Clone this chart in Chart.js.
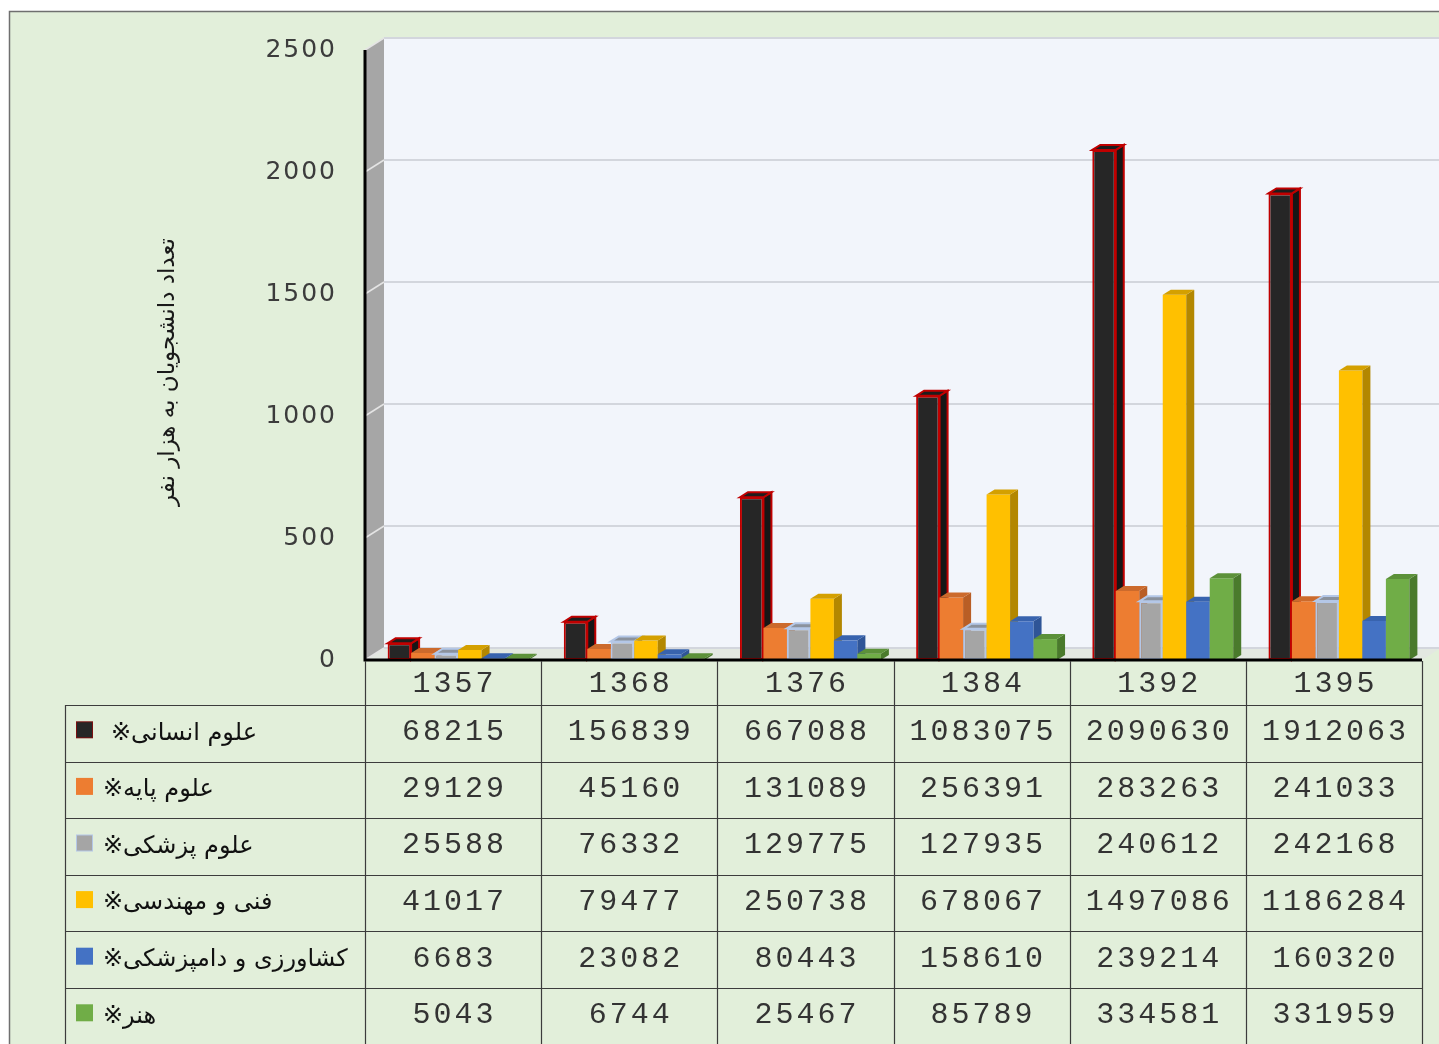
<!DOCTYPE html>
<html>
<head>
<meta charset="utf-8">
<script src="https://cdn.jsdelivr.net/npm/chart.js@4.4.1/dist/chart.umd.min.js"></script>
<style>
  html, body { margin: 0; padding: 0; background: #fff; }
  #wrap { width: 1439px; height: 1044px; position: relative; }
</style>
</head>
<body>
<div id="wrap"><canvas id="chart"></canvas></div>
<script>
// data (raw student counts, the chart shows them in thousands)
const years = ['1357', '1368', '1376', '1384', '1392', '1395'];
const seriesNames = ['علوم انسانی※', 'علوم پایه※', 'علوم پزشکی※', 'فنی و مهندسی※', 'کشاورزی و دامپزشکی※', 'هنر※'];
const humanities = [68215, 156839, 667088, 1083075, 2090630, 1912063];
const basicSciences = [29129, 45160, 131089, 256391, 283263, 241033];
const medical = [25588, 76332, 129775, 127935, 240612, 242168];
const engineering = [41017, 79477, 250738, 678067, 1497086, 1186284];
const agriculture = [6683, 23082, 80443, 158610, 239214, 160320];
const art = [5043, 6744, 25467, 85789, 334581, 331959];
const yTicks = [0, 500, 1000, 1500, 2000, 2500];
const yTitle = 'تعداد دانشجویان به هزار نفر';

const seriesValues = [humanities, basicSciences, medical, engineering, agriculture, art];

const faceColors = ['#262626', '#ed7d31', '#a5a5a5', '#ffc000', '#4472c4', '#70ad47'];
const sideColors = ['#161616', '#b95e25', '#7f8691', '#b38700', '#2f5597', '#4a7a2c'];
const topColors = ['#1d1d1d', '#cc6a2c', '#8b929d', '#d4a000', '#3863ae', '#5c9139'];
const edgeColors = ['#c00000', null, '#b4c7e7', null, null, null];

const wallDepth = { dx: 19, dy: -12 };
const barDepth = { dx: 8, dy: -5 };
const barShift = 5;
const table = { labelLeft: 65, firstRowTop: 705, rowH: 56.6 };

const wallPlugin = {
  id: 'walls',
  beforeDraw(chart) {
    const ctx = chart.ctx;
    const a = chart.chartArea;
    const y = chart.scales.y;
    ctx.save();
    ctx.fillStyle = '#ffffff';
    ctx.fillRect(0, 0, chart.width, chart.height);
    ctx.fillStyle = '#e2efda';
    ctx.fillRect(10, 12, chart.width, chart.height);
    ctx.strokeStyle = '#6f6f6f';
    ctx.lineWidth = 1.5;
    ctx.beginPath();
    ctx.moveTo(9.5, chart.height);
    ctx.lineTo(9.5, 11.5);
    ctx.lineTo(chart.width, 11.5);
    ctx.stroke();

    const dx = wallDepth.dx, dy = wallDepth.dy;
    // back wall
    ctx.fillStyle = '#f2f5fb';
    ctx.fillRect(a.left + dx, a.top + dy, a.right - a.left + 40, a.bottom - a.top);
    // floor
    ctx.fillStyle = '#e3e8e1';
    ctx.beginPath();
    ctx.moveTo(a.left, a.bottom);
    ctx.lineTo(a.right, a.bottom);
    ctx.lineTo(a.right + dx, a.bottom + dy);
    ctx.lineTo(a.left + dx, a.bottom + dy);
    ctx.closePath();
    ctx.fill();
    // side wall
    ctx.fillStyle = '#a6a6a6';
    ctx.beginPath();
    ctx.moveTo(a.left, a.bottom);
    ctx.lineTo(a.left, a.top);
    ctx.lineTo(a.left + dx, a.top + dy);
    ctx.lineTo(a.left + dx, a.bottom + dy);
    ctx.closePath();
    ctx.fill();
    // grid lines on back and side walls
    yTicks.forEach(t => {
      const py = y.getPixelForValue(t);
      ctx.strokeStyle = '#d3d6dd';
      ctx.lineWidth = 2;
      ctx.beginPath();
      ctx.moveTo(a.left + dx, py + dy);
      ctx.lineTo(chart.width, py + dy);
      ctx.stroke();
      ctx.strokeStyle = '#e4e4e4';
      ctx.lineWidth = 1.5;
      ctx.beginPath();
      ctx.moveTo(a.left, py);
      ctx.lineTo(a.left + dx, py + dy);
      ctx.stroke();
    });
    ctx.restore();
    ctx.letterSpacing = '2px';
  }
};

const barsPlugin = {
  id: 'bars3d',
  beforeDatasetDraw() {
    return false;
  },
  afterDatasetsDraw(chart) {
    const ctx = chart.ctx;
    const dx = barDepth.dx, dy = barDepth.dy;
    ctx.save();
    ctx.translate(barShift, 0);
    for (let i = 0; i < seriesValues.length; i++) {
      const meta = chart.getDatasetMeta(i);
      meta.data.forEach(bar => {
        const p = bar.getProps(['x', 'y', 'base', 'width'], true);
        const l = p.x - p.width / 2, r = p.x + p.width / 2;
        const top = Math.min(p.y, p.base), base = Math.max(p.y, p.base);
        bar.draw(ctx);
        // side face
        ctx.beginPath();
        ctx.moveTo(r, top);
        ctx.lineTo(r + dx, top + dy);
        ctx.lineTo(r + dx, base + dy);
        ctx.lineTo(r, base);
        ctx.closePath();
        ctx.fillStyle = sideColors[i];
        ctx.fill();
        if (i === 0) { ctx.strokeStyle = edgeColors[0]; ctx.lineWidth = 2; ctx.stroke(); }
        // top face
        ctx.beginPath();
        ctx.moveTo(l, top);
        ctx.lineTo(l + dx, top + dy);
        ctx.lineTo(r + dx, top + dy);
        ctx.lineTo(r, top);
        ctx.closePath();
        ctx.fillStyle = topColors[i];
        ctx.fill();
        if (edgeColors[i]) { ctx.strokeStyle = edgeColors[i]; ctx.lineWidth = 2; ctx.stroke(); }
      });
    }
    ctx.restore();
  }
};

const tablePlugin = {
  id: 'dataTable',
  afterDraw(chart) {
    const ctx = chart.ctx;
    const a = chart.chartArea;
    const x = chart.scales.x;
    const colW = (a.right - a.left) / years.length;
    const H = chart.height;
    ctx.save();
    // front axis lines
    ctx.strokeStyle = '#000';
    ctx.lineWidth = 3;
    ctx.beginPath();
    ctx.moveTo(a.left, a.top);
    ctx.lineTo(a.left, a.bottom);
    ctx.lineTo(a.right, a.bottom);
    ctx.stroke();

    // grid of the table
    ctx.strokeStyle = '#3c3c3c';
    ctx.lineWidth = 1.2;
    ctx.beginPath();
    for (let c = 0; c <= years.length; c++) {
      const cx = Math.round(a.left + c * colW) + 0.5;
      ctx.moveTo(cx, a.bottom + 1);
      ctx.lineTo(cx, H);
    }
    ctx.moveTo(table.labelLeft + 0.5, table.firstRowTop);
    ctx.lineTo(table.labelLeft + 0.5, H);
    for (let r = 0; r <= seriesValues.length; r++) {
      const ry = Math.round(table.firstRowTop + r * table.rowH) + 0.5;
      ctx.moveTo(table.labelLeft, ry);
      ctx.lineTo(a.right + 0.5, ry);
    }
    ctx.stroke();

    // year header + values
    ctx.fillStyle = '#333333';
    ctx.font = '30px "Liberation Mono", monospace';
    ctx.letterSpacing = '3px';
    ctx.textAlign = 'center';
    ctx.textBaseline = 'middle';
    const headerMid = (a.bottom + table.firstRowTop) / 2 + 2;
    years.forEach((yr, c) => ctx.fillText(yr, x.getPixelForValue(c) + 1.5, headerMid));
    seriesValues.forEach((vals, r) => {
      const ry = table.firstRowTop + (r + 0.5) * table.rowH - 1;
      vals.forEach((v, c) => ctx.fillText(String(v), x.getPixelForValue(c) + 1.5, ry));
    });

    // legend keys + series names
    ctx.letterSpacing = '0px';
    seriesNames.forEach((name, r) => {
      const ry = table.firstRowTop + (r + 0.5) * table.rowH;
      ctx.fillStyle = edgeColors[r] && r === 0 ? '#7a1010' : (edgeColors[r] || faceColors[r]);
      ctx.fillRect(76, ry - 12, 17, 17);
      ctx.fillStyle = faceColors[r];
      ctx.fillRect(77, ry - 11, 15, 15);
      ctx.fillStyle = '#111';
      ctx.font = '24px "DejaVu Sans", sans-serif';
      ctx.direction = 'rtl';
      ctx.textAlign = 'left';
      ctx.fillText(name, r === 0 ? 111 : 103, ry);
    });

    // y axis title
    ctx.translate(168, 372);
    ctx.rotate(-Math.PI / 2);
    ctx.fillStyle = '#1a1a1a';
    ctx.font = '23px "DejaVu Sans", sans-serif';
    ctx.direction = 'rtl';
    ctx.textAlign = 'center';
    ctx.fillText(yTitle, 0, 0);
    ctx.restore();
  }
};

const chart = new Chart(document.getElementById('chart').getContext('2d'), {
  type: 'bar',
  data: {
    labels: years,
    datasets: seriesValues.map((vals, i) => ({
      label: seriesNames[i],
      data: vals.map(v => v / 1000),
      backgroundColor: faceColors[i],
      borderColor: edgeColors[i] || faceColors[i],
      borderWidth: edgeColors[i] ? 2 : 0,
      borderSkipped: false,
      categoryPercentage: 0.8,
      barPercentage: 1
    }))
  },
  options: {
    responsive: true,
    maintainAspectRatio: false,
    animation: false,
    devicePixelRatio: 1,
    layout: { padding: { top: 50, right: 17, bottom: 384, left: 0 } },
    plugins: {
      legend: { display: false },
      tooltip: { enabled: false }
    },
    scales: {
      x: { display: false },
      y: {
        min: 0,
        max: 2500,
        afterBuildTicks: scale => { scale.ticks = yTicks.map(v => ({ value: v })); },
        afterFit: scale => { scale.width = 365; },
        grid: { display: false },
        border: { display: false },
        ticks: {
          padding: 20,
          color: '#3c3c3c',
          font: { family: 'DejaVu Sans', size: 25 },
          callback: value => String(value)
        }
      }
    }
  },
  plugins: [wallPlugin, barsPlugin, tablePlugin]
});
</script>
</body>
</html>
